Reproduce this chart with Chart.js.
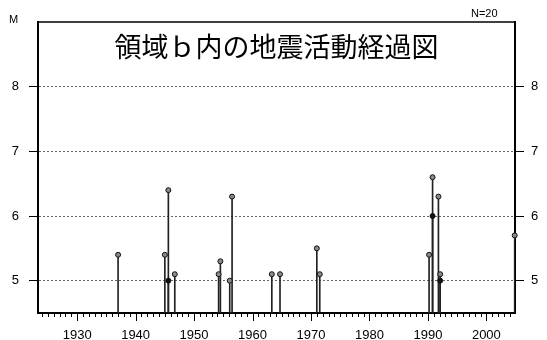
<!DOCTYPE html>
<html>
<head>
<meta charset="utf-8">
<script src="https://cdn.jsdelivr.net/npm/chart.js@4/dist/chart.umd.min.js"></script>
<style>
  html, body { margin: 0; padding: 0; background: #fff; }
  canvas { display: block; }
</style>
</head>
<body>
<canvas id="canvas" width="547" height="340"></canvas>
<script>
// MARK: Data
const years = [1937.0, 1945.0, 1945.6, 1945.6, 1946.7, 1954.2, 1954.5, 1956.1, 1956.5, 1963.3,
  1964.7, 1971.0, 1971.5, 1990.2, 1990.8, 1990.8, 1991.8, 1992.1, 1992.1, 2004.85];
const mags = [5.4, 5.4, 6.4, 5.0, 5.1, 5.1, 5.3, 5.0, 6.3, 5.1,
  5.1, 5.5, 5.1, 5.4, 6.6, 6.0, 6.3, 5.1, 5.0, 5.7];
const xTicks = [1930, 1940, 1950, 1960, 1970, 1980, 1990, 2000];
const yTicks = [5, 6, 7, 8];
const titleText = '領域ｂ内の地震活動経過図';

const xMin = 1923.3, xMax = 2004.9;
const yMin = 4.5, yMax = 9.0;

// MARK: Helpers
// a point gets a dark fill when a bigger event sits at the same time
function pointFill(ctx) {
  const i = ctx.dataIndex;
  for (let j = 0; j < years.length; j++) {
    if (j !== i && Math.abs(years[j] - years[i]) < 0.1 && mags[j] > mags[i]) return '#111';
  }
  return '#8a8a8a';
}

// frame, minor year ticks and texts
const framePlugin = {
  id: 'frame',
  afterDraw(chart) {
    const { ctx, chartArea: a, scales } = chart;
    ctx.save();
    ctx.strokeStyle = '#000';
    ctx.lineWidth = 1.5;
    ctx.beginPath();
    ctx.moveTo(a.left - 1, a.top);
    ctx.lineTo(a.right + 1, a.top);
    ctx.stroke();

    ctx.lineWidth = 1;
    for (let yr = 1924; yr <= 2004; yr++) {
      const px = Math.round(scales.x.getPixelForValue(yr)) + 0.5;
      const len = yr % 10 === 0 ? 8 : 4;
      ctx.beginPath();
      ctx.moveTo(px, a.bottom);
      ctx.lineTo(px, a.bottom + len);
      ctx.stroke();
    }

    ctx.fillStyle = '#000';
    ctx.font = '27px "Noto Sans CJK JP"';
    ctx.textAlign = 'center';
    ctx.textBaseline = 'middle';
    ctx.fillText(titleText, (a.left + a.right) / 2, 47);

    ctx.font = '11px "Liberation Sans"';
    ctx.textAlign = 'left';
    ctx.fillText('M', 9, 20);
    ctx.fillText('N=20', 471, 14);
    ctx.restore();
  }
};

// MARK: Chart
const ctx = document.getElementById('canvas').getContext('2d');
Chart.defaults.font.family = '"Liberation Sans", Arial, sans-serif';
Chart.defaults.font.size = 13;
Chart.defaults.color = '#000';

const chart = new Chart(ctx, {
  type: 'scatter',
  data: {
    datasets: [
      {
        type: 'bar',
        data: years.map((x, i) => ({ x, y: [yMin, mags[i]] })),
        backgroundColor: '#222',
        borderWidth: 0,
        barThickness: 1,
        order: 2
      },
      {
        type: 'scatter',
        data: years.map((x, i) => ({ x, y: mags[i] })),
        pointRadius: 2.5,
        pointBackgroundColor: pointFill,
        pointBorderColor: '#111',
        pointBorderWidth: 1,
        clip: false,
        order: 1
      }
    ]
  },
  options: {
    responsive: false,
    animation: false,
    layout: { padding: { top: 22, left: 0, right: 0, bottom: 0 } },
    plugins: {
      legend: { display: false },
      tooltip: { enabled: false },
      title: { display: false }
    },
    scales: {
      x: {
        type: 'linear',
        position: 'bottom',
        min: xMin,
        max: xMax,
        offset: false,
        grid: { display: false, offset: false },
        border: { display: true, width: 2, color: '#000' },
        ticks: { padding: 7, maxRotation: 0, callback: v => String(v) },
        afterBuildTicks: s => { s.ticks = xTicks.map(v => ({ value: v })); },
        afterFit: s => { s.height = 27; }
      },
      y: {
        type: 'linear',
        position: 'left',
        min: yMin,
        max: yMax,
        grid: {
          drawOnChartArea: true,
          color: '#666',
          lineWidth: 1,
          drawTicks: true,
          tickLength: 9,
          tickColor: '#000',
          tickBorderDash: []
        },
        border: { display: true, width: 2, color: '#000', dash: [2, 2] },
        ticks: { padding: 10 },
        afterBuildTicks: s => { s.ticks = yTicks.map(v => ({ value: v })); },
        afterFit: s => { s.width = 38; }
      },
      y2: {
        type: 'linear',
        position: 'right',
        min: yMin,
        max: yMax,
        grid: {
          drawOnChartArea: false,
          drawTicks: true,
          tickLength: 9,
          tickColor: '#000'
        },
        border: { display: true, width: 2, color: '#000' },
        ticks: { padding: 7 },
        afterBuildTicks: s => { s.ticks = yTicks.map(v => ({ value: v })); },
        afterFit: s => { s.width = 32; }
      }
    }
  },
  plugins: [framePlugin]
});
</script>
</body>
</html>
